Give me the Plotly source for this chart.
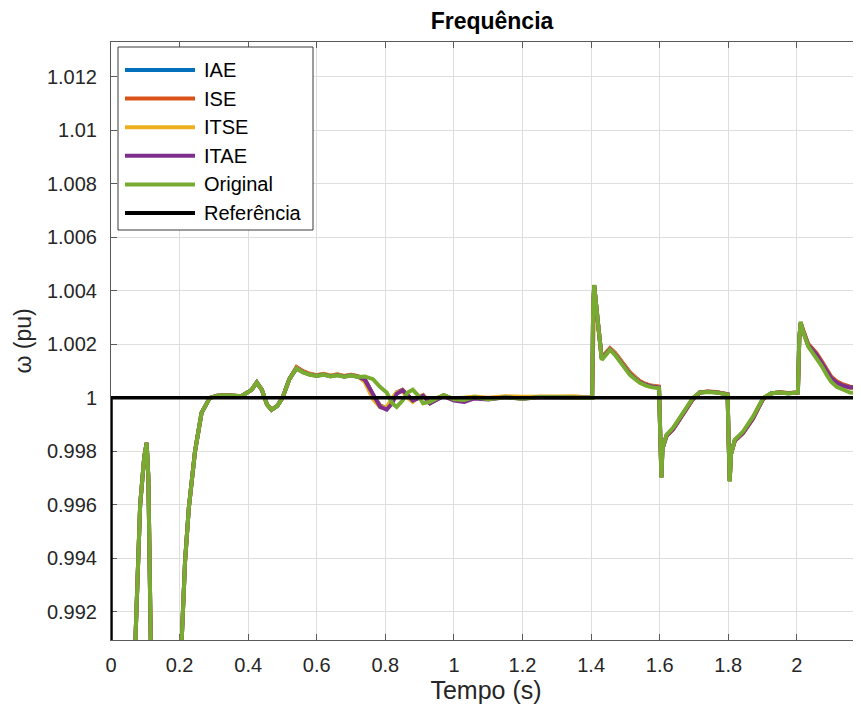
import plotly.graph_objects as go

# ---------------- data ----------------
t = [
    0.0, 0.06, 0.07, 0.085, 0.097, 0.104, 0.109, 0.116, 0.125, 0.19,
    0.206, 0.216, 0.227, 0.245, 0.264, 0.288, 0.31, 0.34, 0.38, 0.41,
    0.425, 0.44, 0.455, 0.468, 0.485, 0.50, 0.52, 0.541, 0.56, 0.58,
    0.60, 0.62, 0.64, 0.66, 0.68, 0.70, 0.72, 0.74, 0.764, 0.785,
    0.804, 0.82, 0.833, 0.85, 0.865, 0.88, 0.895, 0.91, 0.93, 0.95,
    0.97, 1.0, 1.03, 1.06, 1.1, 1.15, 1.2, 1.25, 1.3, 1.35,
    1.38, 1.403, 1.406, 1.409, 1.42, 1.431, 1.443, 1.455, 1.47, 1.484,
    1.5, 1.513, 1.53, 1.542, 1.56, 1.575, 1.598, 1.6015, 1.605, 1.608,
    1.62, 1.639, 1.655, 1.668, 1.683, 1.697, 1.717, 1.74, 1.765, 1.798,
    1.801, 1.804, 1.808, 1.819, 1.843, 1.858, 1.872, 1.887, 1.902, 1.926,
    1.95, 1.975, 2.003, 2.007, 2.011, 2.018, 2.033, 2.045, 2.057, 2.072,
    2.087, 2.1, 2.116, 2.135, 2.155, 2.19,
]

w_iae = [
    0.95, 0.985, 0.9905, 0.996, 0.9978, 0.99832, 0.9970, 0.9908, 0.982, 0.982,
    0.9909, 0.9939, 0.9959, 0.9980, 0.99944, 1.0000, 1.00008, 1.0001, 1.00006, 1.0003,
    1.00058, 1.0003, 0.99975, 0.99955, 0.9997, 1.0000, 1.0007, 1.00113, 1.00098, 1.00088,
    1.00084, 1.00088, 1.00082, 1.00086, 1.0008, 1.00085, 1.0008, 1.0007, 1.0001, 0.9997,
    0.99962, 0.9999, 1.0002, 1.0003, 1.0001, 0.9999, 1.0, 1.0001, 0.9998, 0.99995,
    1.0001, 0.99994, 0.9999, 1.0, 0.99996, 1.00003, 0.99998, 1.00003, 1.00002, 1.00004,
    1.00002, 1.0, 1.0035, 1.0042, 1.0028, 1.00148, 1.00166, 1.00184, 1.00166, 1.00143,
    1.00118, 1.00094, 1.00074, 1.00061, 1.0005, 1.00044, 1.0004, 0.9985, 0.99704, 0.9981,
    0.99859, 0.99884, 0.99914, 0.99938, 0.9997, 0.99997, 1.0002, 1.00023, 1.00021, 1.00013,
    0.9984, 0.99689, 0.9979, 0.99841, 0.9987, 0.99895, 0.99924, 0.99962, 0.99998, 1.00017,
    1.0002, 1.00017, 1.0002, 1.0022, 1.0028, 1.00252, 1.00198, 1.0018, 1.00162, 1.00132,
    1.001, 1.00075, 1.00058, 1.00046, 1.0004, 1.00036,
]

w_ise = [
    0.95, 0.985, 0.9905, 0.996, 0.9978, 0.99832, 0.9970, 0.9908, 0.982, 0.982,
    0.9909, 0.9939, 0.9959, 0.9980, 0.99944, 1.0000, 1.00008, 1.0001, 1.00006, 1.0003,
    1.00058, 1.0003, 0.99975, 0.99955, 0.9997, 1.0000, 1.0007, 1.00115, 1.001, 1.0009,
    1.00085, 1.0009, 1.00083, 1.00088, 1.00082, 1.00086, 1.00081, 1.0007, 1.0001, 0.9997,
    0.99962, 0.9999, 1.0002, 1.0003, 1.0001, 0.9999, 1.0, 1.0001, 0.9998, 0.99995,
    1.0001, 0.99993, 0.9999, 1.0, 0.99996, 1.00004, 0.99998, 1.00004, 1.00003, 1.00005,
    1.00002, 1.0, 1.0035, 1.0042, 1.0028, 1.0015, 1.00168, 1.00186, 1.00168, 1.00145,
    1.0012, 1.00096, 1.00076, 1.00063, 1.00052, 1.00046, 1.00042, 0.9985, 0.99705, 0.9981,
    0.99858, 0.99882, 0.99912, 0.99936, 0.99968, 0.99995, 1.0002, 1.00024, 1.00022, 1.00014,
    0.9984, 0.9969, 0.9979, 0.9984, 0.99868, 0.99893, 0.99922, 0.9996, 0.99996, 1.00017,
    1.00021, 1.00018, 1.0002, 1.0022, 1.0028, 1.00255, 1.00202, 1.00185, 1.00168, 1.00138,
    1.00105, 1.0008, 1.00062, 1.0005, 1.00042, 1.00038,
]

w_itse = [
    0.95, 0.985, 0.9905, 0.996, 0.9978, 0.99832, 0.9970, 0.9908, 0.982, 0.982,
    0.9909, 0.9939, 0.9959, 0.9980, 0.99944, 1.0000, 1.00008, 1.0001, 1.00006, 1.0003,
    1.00058, 1.0003, 0.99975, 0.99955, 0.9997, 1.0000, 1.0007, 1.00112, 1.00097, 1.00089,
    1.00084, 1.00089, 1.00083, 1.00087, 1.00081, 1.00085, 1.0008, 1.0006, 0.99995, 0.99965,
    0.99965, 1.0, 1.0002, 1.00025, 1.0, 0.99985, 1.00002, 1.0001, 0.99985, 1.0,
    1.00008, 0.99997, 1.00002, 1.00005, 1.0, 1.00006, 1.00004, 1.00006, 1.00005, 1.00006,
    1.00004, 1.0, 1.0035, 1.0042, 1.0028, 1.00148, 1.00166, 1.00183, 1.00165, 1.00142,
    1.00117, 1.00093, 1.00073, 1.0006, 1.0005, 1.00044, 1.0004, 0.9985, 0.99704, 0.9981,
    0.9986, 0.99885, 0.99915, 0.9994, 0.99972, 0.99998, 1.0002, 1.00023, 1.00021, 1.00013,
    0.9984, 0.99689, 0.9979, 0.99842, 0.99871, 0.99897, 0.99926, 0.99963, 0.99999, 1.00017,
    1.0002, 1.00017, 1.0002, 1.0022, 1.0028, 1.0025, 1.00196, 1.00178, 1.0016, 1.0013,
    1.00098, 1.00073, 1.00056, 1.00045, 1.00038, 1.00035,
]

w_itae = [
    0.95, 0.985, 0.9905, 0.996, 0.9978, 0.99832, 0.9970, 0.9908, 0.982, 0.982,
    0.9909, 0.9939, 0.9959, 0.9980, 0.99944, 1.0000, 1.00008, 1.0001, 1.00006, 1.0003,
    1.00058, 1.0003, 0.99975, 0.99955, 0.9997, 1.0000, 1.0007, 1.0011, 1.00096, 1.00087,
    1.00083, 1.00087, 1.00081, 1.00085, 1.0008, 1.00084, 1.00079, 1.00068, 1.0001, 0.99966,
    0.99956, 0.9998, 1.00015, 1.00028, 1.0001, 0.9999, 0.99998, 1.00008, 0.9998, 0.99993,
    1.00006, 0.9999, 0.99985, 0.99998, 0.99994, 1.00002, 0.99997, 1.00002, 1.00001, 1.00003,
    1.00001, 1.0, 1.0035, 1.0042, 1.0028, 1.00146, 1.00164, 1.00182, 1.00163, 1.0014,
    1.00115, 1.0009, 1.00071, 1.00059, 1.00049, 1.00043, 1.00039, 0.9985, 0.99703, 0.9981,
    0.99858, 0.99883, 0.99913, 0.99937, 0.99969, 0.99996, 1.0002, 1.00023, 1.00021, 1.00013,
    0.9984, 0.99689, 0.9979, 0.9984, 0.99869, 0.99894, 0.99923, 0.99961, 0.99997, 1.00017,
    1.0002, 1.00017, 1.0002, 1.0022, 1.0028, 1.0025, 1.00197, 1.0018, 1.00162, 1.00132,
    1.00099, 1.00074, 1.00057, 1.00045, 1.00039, 1.00036,
]

w_original = [
    0.95, 0.985, 0.9905, 0.996, 0.9978, 0.99832, 0.9970, 0.9908, 0.982, 0.982,
    0.9909, 0.9939, 0.9959, 0.9980, 0.99944, 1.0000, 1.00008, 1.0001, 1.00006, 1.0003,
    1.00058, 1.0003, 0.99975, 0.99955, 0.9997, 1.0000, 1.0007, 1.0011, 1.00095, 1.00086,
    1.00082, 1.00086, 1.0008, 1.00084, 1.00079, 1.00083, 1.00078, 1.0008, 1.0007, 1.0004,
    1.0002, 0.9998, 0.99966, 0.9999, 1.0002, 1.0003, 1.0001, 0.9998, 0.99985, 0.99998,
    1.0001, 0.99995, 0.99992, 1.00003, 0.99995, 1.00002, 0.99997, 1.00003, 1.00002, 1.00004,
    1.00002, 1.0, 1.0035, 1.00422, 1.0028, 1.00142, 1.0016, 1.0018, 1.0016, 1.00136,
    1.0011, 1.00086, 1.00068, 1.00056, 1.00046, 1.0004, 1.00036, 0.9985, 0.99701, 0.9981,
    0.99862, 0.99888, 0.9992, 0.99944, 0.99975, 1.0, 1.0002, 1.00022, 1.0002, 1.00012,
    0.9984, 0.99687, 0.9979, 0.99843, 0.99874, 0.999, 0.9993, 0.99965, 1.0, 1.00017,
    1.0002, 1.00016, 1.0002, 1.0022, 1.00285, 1.00248, 1.00192, 1.0017, 1.0015, 1.0012,
    1.00086, 1.0006, 1.00041, 1.0003, 1.0002, 1.00017,
]

t_ref = [0.0, 0.0, 2.19]
w_ref = [0.95, 1.0, 1.0]

names = ["IAE", "ISE", "ITSE", "ITAE", "Original", "Referência"]
colors = ["#0072BD", "#D95319", "#EDB120", "#7E2F8E", "#77AC30", "#000000"]
series_x = [t, t, t, t, t, t_ref]
series_y = [w_iae, w_ise, w_itse, w_itae, w_original, w_ref]
widths = [4, 4, 4, 4, 4, 3.5]

x_ticks = [0, 0.2, 0.4, 0.6, 0.8, 1, 1.2, 1.4, 1.6, 1.8, 2]
x_ticklabels = ["0", "0.2", "0.4", "0.6", "0.8", "1", "1.2", "1.4", "1.6", "1.8", "2"]
y_ticks = [0.992, 0.994, 0.996, 0.998, 1.0, 1.002, 1.004, 1.006, 1.008, 1.01, 1.012]
y_ticklabels = ["0.992", "0.994", "0.996", "0.998", "1", "1.002", "1.004", "1.006", "1.008", "1.01", "1.012"]

# ---------------- figure ----------------
FONT = "Liberation Sans, Arial, sans-serif"
OFF = 8                      # default page body margin
W, H = 861 - OFF, 713 - OFF
ML, MT, MB, MR = 111 - OFF, 42 - OFF, H + OFF - 640, 0

fig = go.Figure()
for nm, c, xs, ys, lw in zip(names, colors, series_x, series_y, widths):
    fig.add_trace(go.Scatter(x=xs, y=ys, mode="lines", name=nm,
                             line=dict(color=c, width=lw), showlegend=False,
                             hoverinfo="skip"))

axis_common = dict(
    showgrid=True, gridcolor="#dedede", gridwidth=1,
    showline=True, linecolor="#5a5a5a", linewidth=1,
    ticks="inside", ticklen=6, tickcolor="#5a5a5a", tickwidth=1,
    zeroline=False, layer="below traces", automargin=False,
    tickfont=dict(family=FONT, size=20, color="#262626"),
)

fig.update_xaxes(range=[0, 2.187], tickvals=x_ticks, ticktext=x_ticklabels,
                 mirror="ticks", ticklabelstandoff=7,
                 title=dict(text="Tempo (s)", font=dict(family=FONT, size=25, color="#262626"),
                            standoff=3),
                 **axis_common)
fig.update_yaxes(range=[0.99095, 1.0133], tickvals=y_ticks, ticktext=y_ticklabels,
                 mirror=False, ticklabelstandoff=9,
                 title=dict(text="ω (pu)", font=dict(family=FONT, size=23, color="#262626"),
                            standoff=8),
                 **axis_common)

# ---------------- manual MATLAB-style legend (positions in screenshot pixels) ----------------
pw, ph = W - ML - MR, H - MT - MB
def px(xp):
    return (xp - OFF - ML) / pw
def py(yp):
    return (H - MB - (yp - OFF)) / ph

shapes = [dict(type="rect", xref="paper", yref="paper",
               x0=px(118), x1=px(313), y0=py(230), y1=py(47),
               line=dict(color="#3a3a3a", width=1), fillcolor="white", layer="above")]
annotations = []
row0, drow = 70, 28.6
for i, (nm, c) in enumerate(zip(names, colors)):
    yy = py(row0 + i * drow)
    shapes.append(dict(type="line", xref="paper", yref="paper",
                       x0=px(125), x1=px(195), y0=yy, y1=yy,
                       line=dict(color=c, width=4), layer="above"))
    annotations.append(dict(xref="paper", yref="paper", x=px(202), y=yy,
                            text=nm, showarrow=False, xanchor="left", yanchor="middle",
                            font=dict(family=FONT, size=20, color="#000000")))

fig.update_layout(
    width=W, height=H,
    margin=dict(l=ML, r=MR, t=MT, b=MB),
    paper_bgcolor="white", plot_bgcolor="white",
    title=dict(text="<b>Frequência</b>", x=px(492), xref="paper", xanchor="center",
               y=1 - 13 / H, yref="container", yanchor="middle",
               font=dict(family=FONT, size=23, color="#000000")),
    shapes=shapes, annotations=annotations,
    showlegend=False,
)

fig.write_html("out.html")
